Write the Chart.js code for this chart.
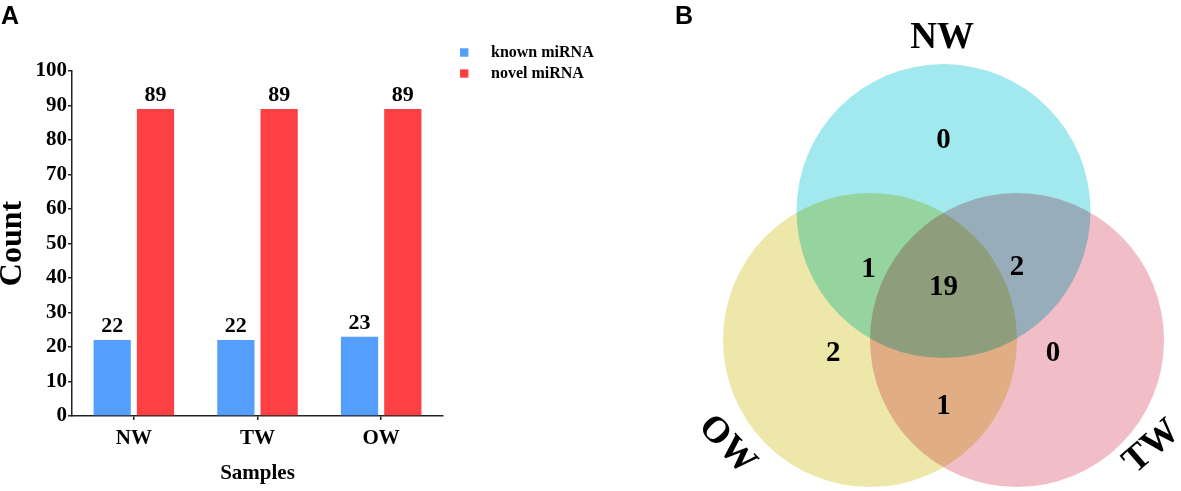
<!DOCTYPE html>
<html>
<head>
<meta charset="utf-8">
<script src="https://cdn.jsdelivr.net/npm/chart.js@4"></script>
<style>
  body { margin: 0; background: #fff; width: 1181px; height: 491px; position: relative; overflow: hidden; }
  canvas { position: absolute; top: 0; }
  #barChart { left: 0; }
  #vennChart { left: 680px; }
  .panel { position: absolute; z-index: 2; font: bold 25px "Liberation Sans", Arial, sans-serif; color: #000; }
</style>
</head>
<body>
<canvas id="barChart" width="680" height="491"></canvas>
<canvas id="vennChart" width="501" height="491"></canvas>
<div class="panel" style="left:1px; top:1px;">A</div>
<div class="panel" style="left:675px; top:1px;">B</div>
<script>
// Panel A data
const samples = ['NW', 'TW', 'OW'];
const knownMiRNA = [22, 22, 23];
const novelMiRNA = [89, 89, 89];
const seriesNames = ['known miRNA', 'novel miRNA'];
const yTickMax = 100;
const yTickStep = 10;

// Panel B data
const vennSets = ['NW', 'OW', 'TW'];
const vennCenterX = [0, -0.5, 0.5];
const vennCenterY = [0.877, 0, 0];
const vennRadius = 1.0;
const regionNames = ['NW', 'NW∩OW', 'NW∩OW∩TW', 'NW∩TW', 'OW', 'TW', 'OW∩TW'];
const regionCounts = [0, 1, 19, 2, 2, 0, 1];

// positions (Venn units) where region counts and set names are written
const regionLabelX = [0, -0.51, 0, 0.5, -0.75, 0.745, 0];
const regionLabelY = [1.354, 0.48, 0.354, 0.49, -0.09, -0.09, -0.45];
const setLabelX = [-0.01, -1.473, 1.418];
const setLabelY = [2.054, -0.714, -0.728];
const setLabelRotation = [0, 47, -41];

const SERIF = '"Liberation Serif", "Times New Roman", serif';
const BLUE = '#549ffd';
const RED = '#fd4044';
const AXIS = '#222';

Chart.defaults.font.family = SERIF;
Chart.defaults.font.weight = 'bold';
Chart.defaults.color = '#000';

// Werte über den Balken
const barLabels = {
  id: 'barLabels',
  afterDatasetsDraw(chart) {
    const ctx = chart.ctx;
    ctx.save();
    ctx.font = 'bold 22px ' + SERIF;
    ctx.fillStyle = '#000';
    ctx.textAlign = 'center';
    ctx.textBaseline = 'alphabetic';
    chart.data.datasets.forEach((ds, i) => {
      chart.getDatasetMeta(i).data.forEach((bar, j) => {
        ctx.fillText(String(ds.data[j]), bar.x, bar.y - 8);
      });
    });
    ctx.restore();
  }
};

// Legende oben rechts
const barLegend = {
  id: 'barLegend',
  afterDraw(chart) {
    const ctx = chart.ctx;
    ctx.save();
    ctx.font = 'bold 16px ' + SERIF;
    ctx.textBaseline = 'middle';
    ctx.textAlign = 'left';
    chart.data.datasets.forEach((ds, i) => {
      const y = 52.5 + i * 21;
      ctx.fillStyle = ds.backgroundColor;
      ctx.fillRect(460, y - 4.2, 8.4, 8.4);
      ctx.fillStyle = '#000';
      ctx.fillText(ds.label, 491, y);
    });
    ctx.restore();
  }
};

new Chart(document.getElementById('barChart'), {
  type: 'bar',
  data: {
    labels: samples,
    datasets: [
      { label: seriesNames[0], data: knownMiRNA, backgroundColor: BLUE },
      { label: seriesNames[1], data: novelMiRNA, backgroundColor: RED }
    ]
  },
  options: {
    responsive: false,
    animation: false,
    events: [],
    layout: { padding: { top: 71, right: 237, left: 0, bottom: 0 } },
    datasets: { bar: { categoryPercentage: 0.7, barPercentage: 0.86 } },
    plugins: { legend: { display: false }, tooltip: { enabled: false } },
    scales: {
      x: {
        grid: { display: true, drawOnChartArea: false, offset: false, tickLength: 4, color: AXIS, lineWidth: 1.5 },
        border: { display: true, color: AXIS, width: 1.5 },
        ticks: { font: { size: 21, weight: 'bold' }, color: '#000', padding: 6 },
        title: { display: true, text: 'Samples', font: { size: 21, weight: 'bold' }, color: '#000', padding: { bottom: 5 } },
        afterFit(axis) { axis.height = 75; }
      },
      y: {
        min: 0,
        max: yTickMax,
        ticks: { stepSize: yTickStep, font: { size: 21, weight: 'bold' }, color: '#000', padding: 1 },
        grid: { display: true, drawOnChartArea: false, tickLength: 4, color: AXIS, lineWidth: 1.5 },
        border: { display: true, color: AXIS, width: 1.5 },
        title: { display: true, text: 'Count', font: { size: 32, weight: 'bold', lineHeight: 1 }, color: '#000', padding: { top: -3.5 } },
        afterFit(axis) { axis.width = 72; }
      }
    }
  },
  plugins: [barLabels, barLegend]
});

// Venn: Kreise multiplizierend übereinander, dann Zahlen und Namen
const vennBlend = {
  id: 'vennBlend',
  beforeDraw(chart) {
    const ctx = chart.ctx;
    ctx.save();
    ctx.fillStyle = '#fff';
    ctx.fillRect(0, 0, chart.width, chart.height);
    ctx.restore();
  },
  beforeDatasetsDraw(chart) {
    chart.ctx.save();
    chart.ctx.globalCompositeOperation = 'multiply';
  },
  afterDatasetsDraw(chart) {
    const ctx = chart.ctx;
    ctx.restore();
    const sx = chart.scales.x, sy = chart.scales.y;
    ctx.save();
    ctx.fillStyle = '#000';
    ctx.textAlign = 'center';
    ctx.textBaseline = 'middle';
    ctx.font = 'bold 29px ' + SERIF;
    regionCounts.forEach((c, i) => {
      ctx.fillText(String(c), sx.getPixelForValue(regionLabelX[i]), sy.getPixelForValue(regionLabelY[i]));
    });
    ctx.font = 'bold 37px ' + SERIF;
    vennSets.forEach((name, i) => {
      ctx.save();
      ctx.translate(sx.getPixelForValue(setLabelX[i]), sy.getPixelForValue(setLabelY[i]));
      ctx.rotate(setLabelRotation[i] * Math.PI / 180);
      ctx.fillText(name, 0, 0);
      ctx.restore();
    });
    ctx.restore();
  }
};

// Kreisradius in Pixeln aus der x-Skala
function circleRadius(ctx) {
  const s = ctx.chart.scales.x;
  if (!s) return 0;
  return Math.abs(s.getPixelForValue(vennRadius) - s.getPixelForValue(0));
}

const unitPx = 147;
new Chart(document.getElementById('vennChart'), {
  type: 'scatter',
  data: {
    datasets: [{
      label: 'sets',
      data: vennSets.map((s, i) => ({ x: vennCenterX[i], y: vennCenterY[i] })),
      pointBackgroundColor: ['#a1e9ee', '#ede8aa', '#f1bec8'],
      pointBorderWidth: 0,
      pointStyle: 'circle',
      showLine: false,
      clip: false,
      pointRadius: circleRadius
    }]
  },
  options: {
    responsive: false,
    animation: false,
    events: [],
    layout: { padding: 0 },
    plugins: { legend: { display: false }, tooltip: { enabled: false } },
    scales: {
      x: { type: 'linear', display: false, min: -263.5 / unitPx, max: (501 - 263.5) / unitPx },
      y: { type: 'linear', display: false, min: (340 - 491) / unitPx, max: 340 / unitPx }
    }
  },
  plugins: [vennBlend]
});
</script>
</body>
</html>
